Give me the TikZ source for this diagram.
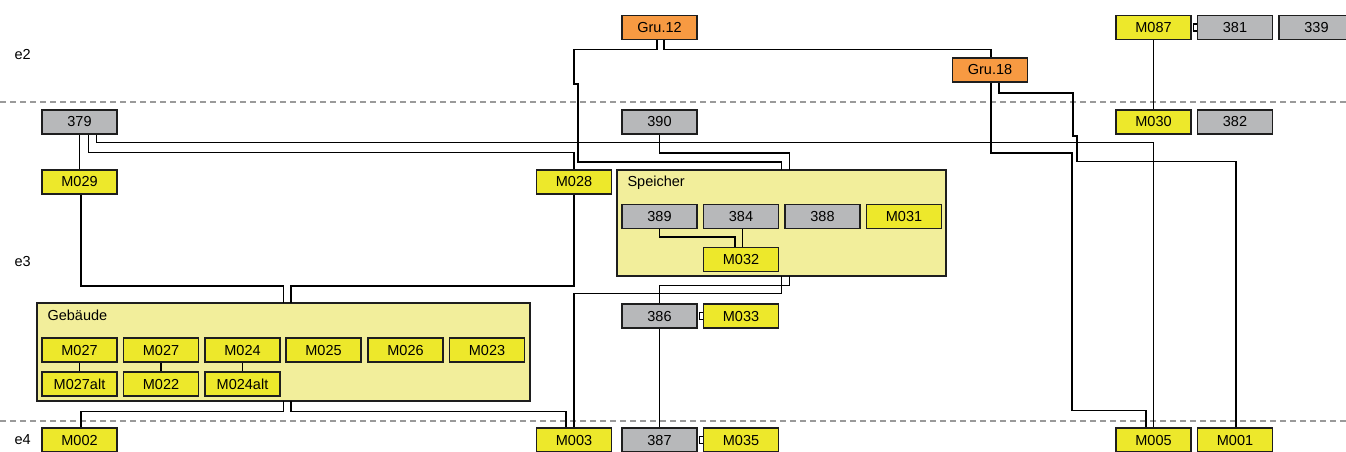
\documentclass[tikz,border=0pt]{standalone}
\usepackage{fontspec}
\setmainfont{Liberation Sans}
\usetikzlibrary{calc}
\definecolor{ylw}{HTML}{EDE82B}
\definecolor{gry}{HTML}{B7B8BA}
\definecolor{org}{HTML}{F79A42}
\definecolor{pale}{HTML}{F2EE9B}
\definecolor{bord}{HTML}{1E1E1E}
\definecolor{dashc}{HTML}{9A9A9A}
\tikzset{
  box/.style={draw=bord, line width=1.5pt, minimum width=75pt, minimum height=24pt, inner sep=0pt,
    font=\fontsize{14.5}{15}\selectfont},
  ybox/.style={box, fill=ylw},
  gbox/.style={box, fill=gry},
  obox/.style={box, fill=org},
  group/.style={draw=bord, line width=1.5pt, fill=pale},
  conn/.style={draw=black, line width=1.5pt},
  level/.style={draw=dashc, line width=1.2pt, dash pattern=on 6pt off 4pt},
  lvlabel/.style={anchor=west, font=\fontsize{14.5}{15}\selectfont},
  grlabel/.style={anchor=west, font=\fontsize{14.5}{15}\selectfont},
}
\begin{document}
\begin{tikzpicture}[x=1pt, y=-1pt]
\useasboundingbox[fill=white] (0,0) rectangle (1346,451);
% level separators
\coordinate (l1a) at (0,102); \coordinate (l1b) at (1346,102);
\coordinate (l2a) at (0,421); \coordinate (l2b) at (1346,421);
\draw[level] (l1a) -- (l1b);
\draw[level] (l2a) -- (l2b);
\node[lvlabel] (e2) at (11,55) {e2};
\node[lvlabel] (e3) at (11,262) {e3};
\node[lvlabel] (e4) at (11,440) {e4};

% containers
\path[group] (617,170) rectangle (946,276);
\node[minimum width=329pt, minimum height=106pt, inner sep=0pt] (spbox) at (781.5,223) {};
\node[grlabel] (splab) at (624,183) {Speicher};
\path[group] (37,303) rectangle (530,401);
\node[minimum width=493pt, minimum height=98pt, inner sep=0pt] (gebox) at (283.5,352) {};
\node[grlabel] (gelab) at (44,315) {Gebäude};

% e2 row
\node[obox] (gru12) at (659.5,27.5) {Gru.12};
\node[obox] (gru18) at (990,70) {Gru.18};
\node[ybox] (m087) at (1153.5,27.5) {M087};
\node[gbox] (n381) at (1235,27.5) {381};
\node[gbox] (n339) at (1316.5,27.5) {339};

% e3 row
\node[gbox] (n379) at (79.5,122) {379};
\node[gbox] (n390) at (659.5,122) {390};
\node[ybox] (m030) at (1153.5,122) {M030};
\node[gbox] (n382) at (1235,122) {382};
\node[ybox] (m029) at (79.5,182) {M029};
\node[ybox] (m028) at (574,182) {M028};

% Speicher content
\node[gbox] (n389) at (659.5,216.5) {389};
\node[gbox] (n384) at (741,216.5) {384};
\node[gbox] (n388) at (822.5,216.5) {388};
\node[ybox] (m031) at (904,216.5) {M031};
\node[ybox] (m032) at (741,259.5) {M032};

% Gebaeude content
\node[ybox] (m027a) at (79.5,350) {M027};
\node[ybox] (m027b) at (161,350) {M027};
\node[ybox] (m024) at (242.5,350) {M024};
\node[ybox] (m025) at (323.5,350) {M025};
\node[ybox] (m026) at (405.5,350) {M026};
\node[ybox] (m023) at (487,350) {M023};
\node[ybox] (m027alt) at (79.5,384) {M027alt};
\node[ybox] (m022) at (161,384) {M022};
\node[ybox] (m024alt) at (242.5,384) {M024alt};

\node[gbox] (n386) at (659.5,316) {386};
\node[ybox] (m033) at (741,316) {M033};

% e4 row
\node[ybox] (m002) at (79.5,440) {M002};
\node[ybox] (m003) at (574,440) {M003};
\node[gbox] (n387) at (659.5,440) {387};
\node[ybox] (m035) at (741,440) {M035};
\node[ybox] (m005) at (1153.5,440) {M005};
\node[ybox] (m001) at (1235,440) {M001};

% connectors
\draw[conn] (n379.south) -- (m029.north);
\draw[conn] ([xshift=9pt]n379.south) |- ([yshift=17pt]m028.north) -- (m028.north);
\draw[conn] ([xshift=17pt]n379.south) |- ([yshift=285pt]m005.north) -- (m005.north);

\draw[conn] ([xshift=-2.5pt]gru12.south) -- ++(0,9) -| (574,84) -- (578,84)
   |- ([yshift=8pt]spbox.north) -- (spbox.north);
\draw[conn] ([xshift=4.5pt]gru12.south) -- ++(0,9) -| ([xshift=1pt]gru18.north);
\draw[conn] (n390.south) |- ([xshift=8pt,yshift=17pt]spbox.north) -- ([xshift=8pt]spbox.north);

\draw[conn] ([xshift=1pt]gru18.south) |- (1072,153) |- ([xshift=-7.5pt,yshift=17pt]m005.north) -- ([xshift=-7.5pt]m005.north);
\draw[conn] ([xshift=9pt]gru18.south) -- ++(0,10) -| (1073,136) -- (1077,136)
   |- ([xshift=1pt,yshift=266pt]m001.north) -- ([xshift=1pt]m001.north);

\draw[conn] (m087.south) -- (m030.north);

\draw[conn] ([xshift=1.5pt]m029.south) |- ([yshift=17pt]gebox.north) -- (gebox.north);
\draw[conn] (m028.south) |- ([xshift=7.5pt,yshift=17pt]gebox.north) -- ([xshift=7.5pt]gebox.north);

\draw[conn] (gebox.south) |- ([xshift=1.5pt,yshift=16pt]m002.north) -- ([xshift=1.5pt]m002.north);
\draw[conn] ([xshift=7.5pt]gebox.south) |- ([xshift=-8pt,yshift=16pt]m003.north) -- ([xshift=-8pt]m003.north);

\draw[conn] (spbox.south) |- ([yshift=134pt]m003.north) -- (m003.north);
\draw[conn] ([xshift=8pt]spbox.south) |- ([yshift=18pt]n386.north) -- (n386.north);

\draw[conn] (n389.south) |- ([xshift=-6pt,yshift=10pt]m032.north) -- ([xshift=-6pt]m032.north);
\draw[conn] ([xshift=1.5pt]n384.south) -- ([xshift=1.5pt]m032.north);

\draw[conn] (n386.south) -- (n387.north);

\draw[conn] (m027a.south) -- (m027alt.north);
\draw[conn] (m027b.south) -- (m022.north);
\draw[conn] (m024.south) -- (m024alt.north);

% small links between adjacent boxes
\foreach \a/\b in {n386/m033, n387/m035, m087/n381}{
  \draw[line width=1.2pt] ([xshift=1.5pt,yshift=3.5pt]\a.east) -- ([yshift=3.5pt]\b.west);
  \draw[line width=1.2pt] ([xshift=1.5pt,yshift=-3.5pt]\a.east) -- ([yshift=-3.5pt]\b.west);
  \draw[line width=1.2pt] ([xshift=1.5pt,yshift=3.5pt]\a.east) -- ([xshift=1.5pt,yshift=-3.5pt]\a.east);
}
\end{tikzpicture}
\end{document}
